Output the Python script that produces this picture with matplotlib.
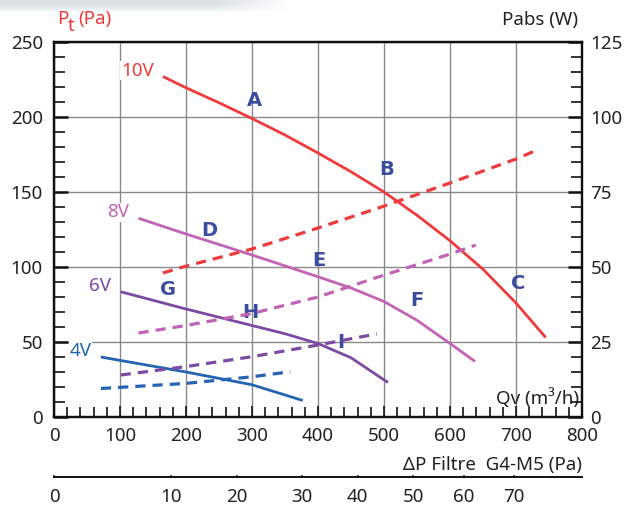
import numpy as np
import matplotlib
matplotlib.use("Agg")
import matplotlib.pyplot as plt
from matplotlib.ticker import MultipleLocator, FixedLocator

plt.rcParams['font.family'] = ['Noto Sans', 'DejaVu Sans']

# ---------------- data ----------------
# Pressure curves (solid): Qv (m3/h) -> Pt (Pa)
qv_10v = [165, 200, 250, 300, 350, 400, 450, 500, 550, 600, 650, 700, 745]
pt_10v = [227, 219.5, 209.5, 199, 188, 176, 163.5, 150, 134.5, 117.5, 98.5, 76, 53]
qv_8v = [128, 200, 300, 400, 450, 500, 550, 600, 638]
pt_8v = [132.5, 122, 108, 93.5, 86, 77, 64.5, 49, 37]
qv_6v = [101, 200, 300, 350, 400, 450, 506]
pt_6v = [83.5, 72, 61, 55.5, 49, 39.5, 23]
qv_4v = [71, 200, 300, 377]
pt_4v = [40, 30, 21.5, 11]

# Absorbed power curves (dashed): Qv (m3/h) -> Pabs (W)
qvp_10v = [165, 200, 300, 400, 500, 600, 700, 732]
pw_10v = [48, 50.3, 56, 63, 70.3, 78, 86, 89]
qvp_8v = [128, 200, 300, 400, 500, 600, 639]
pw_8v = [28, 30.5, 34.5, 40, 47.3, 54.3, 57.3]
qvp_6v = [101, 200, 300, 400, 489]
pw_6v = [14, 16.8, 20.1, 24, 27.7]
qvp_4v = [71, 200, 300, 358]
pw_4v = [9.5, 11.2, 13.4, 15.1]

voltages = ['10V', '8V', '6V', '4V']
colors = ['#ef3b3b', '#c263b5', '#7c4aa2', '#2464b3']

# Operating point letters
point_letters = ['A', 'B', 'C', 'D', 'E', 'F', 'G', 'H', 'I']
point_qv = [304, 504, 703, 236, 402, 550, 173, 297, 434]
point_pt = [211, 165, 89, 124, 104, 78, 85, 70, 49.5]

# Filter pressure drop secondary scale (Pa) and matching Qv (m3/h)
filter_dp_ticks = [0, 10, 20, 30, 40, 50, 60, 70]
filter_dp_qv = [0, 177, 277, 375, 460, 544, 621, 697]

# ---------------- figure ----------------
fig = plt.figure(figsize=(6.4, 5.08), dpi=100)

# decorative top gradient band
band = fig.add_axes([0, 1 - 13 / 508, 290 / 640, 13 / 508])
h, w = 13, 290
yy = np.linspace(0, 1, h)[:, None]
xx = np.linspace(0, 1, w)[None, :]
alpha = (1 - yy ** 2) * np.clip((1 - xx) / 0.25, 0, 1)
img = np.zeros((h, w, 4))
img[..., 0] = 0.85
img[..., 1] = 0.88
img[..., 2] = 0.90
img[..., 3] = alpha * 0.95
band.imshow(img, aspect='auto', interpolation='bilinear')
band.axis('off')

ax = fig.add_axes([54 / 640, 91 / 508, 528 / 640, 375 / 508])
ax.set_xlim(0, 800)
ax.set_ylim(0, 250)
ax2 = ax.twinx()
ax2.set_ylim(0, 125)

text_col = '#222222'
fs = 13.5
for a in (ax, ax2):
    for s in a.spines.values():
        s.set_linewidth(1.6)
        s.set_color('#111111')

ax.xaxis.set_major_locator(MultipleLocator(100))
ax.xaxis.set_minor_locator(MultipleLocator(20))
ax.yaxis.set_major_locator(MultipleLocator(50))
ax.yaxis.set_minor_locator(MultipleLocator(10))
ax2.yaxis.set_major_locator(MultipleLocator(25))
ax2.yaxis.set_minor_locator(MultipleLocator(5))

ax.grid(True, which='major', color='#8a8a8a', lw=1.0)
ax.set_axisbelow(True)

ax.tick_params(axis='x', which='major', direction='in', length=8, width=1.2,
               labelsize=fs, pad=7, colors='#111111', labelcolor=text_col)
ax.tick_params(axis='x', which='minor', direction='in', length=7, width=1.2, colors='#111111')
ax.tick_params(axis='y', which='major', direction='in', length=10, width=1.8,
               labelsize=fs, pad=8, colors='#111111', labelcolor=text_col)
ax.tick_params(axis='y', which='minor', direction='in', length=8, width=1.2, colors='#111111')
ax2.tick_params(axis='y', which='major', direction='in', length=10, width=1.8,
                labelsize=fs, pad=6, colors='#111111', labelcolor=text_col)
ax2.tick_params(axis='y', which='minor', direction='in', length=8, width=1.2, colors='#111111')

solid = [(qv_10v, pt_10v), (qv_8v, pt_8v), (qv_6v, pt_6v), (qv_4v, pt_4v)]
dashed = [(qvp_10v, pw_10v), (qvp_8v, pw_8v), (qvp_6v, pw_6v), (qvp_4v, pw_4v)]
for (x, y), c in zip(solid, colors):
    ax.plot(x, y, color=c, lw=2.0, solid_capstyle='butt', solid_joinstyle='round', zorder=3)
for (x, y), c in zip(dashed, colors):
    ax2.plot(x, y, color=c, lw=2.3, dashes=(3.2, 2.2), zorder=3)

# voltage labels
for lab, (x, y), c in zip(voltages, solid, colors):
    ax.text(x[0] - 14, y[0] + 4, lab, color=c, fontsize=fs, ha='right', va='center',
            bbox=dict(facecolor='white', edgecolor='none', pad=0.5), zorder=4)

# point letters
for lab, x, y in zip(point_letters, point_qv, point_pt):
    ax.text(x, y, lab, color='#3a4c9e', fontsize=14, fontweight='bold',
            family='DejaVu Sans', ha='center', va='center', zorder=5)

# axis titles
ax.text(0.995, 0.05, 'Qv (m³/h)', transform=ax.transAxes, ha='right', va='center',
        fontsize=fs, color=text_col)
fig.text(57 / 640, 1 - 19 / 508, 'P', color='#ef3b3b', fontsize=fs, ha='left', va='center')
fig.text(68 / 640, 1 - 26 / 508, 't', color='#ef3b3b', fontsize=fs, ha='left', va='center')
fig.text(78 / 640, 1 - 19 / 508, '(Pa)', color='#ef3b3b', fontsize=fs, ha='left', va='center')
fig.text(578 / 640, 1 - 20 / 508, 'Pabs (W)', color=text_col, fontsize=fs,
         ha='right', va='center')

# secondary filter scale
axf = fig.add_axes([54 / 640, 31 / 508, 528 / 640, 0.001])
axf.set_xlim(0, 800)
axf.set_ylim(0, 1)
for s in ('top', 'left', 'right'):
    axf.spines[s].set_visible(False)
axf.spines['bottom'].set_linewidth(1.4)
axf.spines['bottom'].set_color('#111111')
axf.set_yticks([])
axf.xaxis.set_major_locator(FixedLocator(filter_dp_qv))
axf.set_xticklabels([str(v) for v in filter_dp_ticks])
axf.tick_params(axis='x', direction='out', length=0, labelsize=fs, pad=8, labelcolor=text_col)
for q in filter_dp_qv:
    axf.plot([q, q], [0, 1], transform=axf.get_xaxis_transform(), color='#111111', lw=1.2,
             clip_on=False)
axf.patch.set_visible(False)
fig.text(582 / 640, 1 - 465 / 508, 'ΔP Filtre  G4-M5 (Pa)', color=text_col, fontsize=fs,
         ha='right', va='center')

fig.savefig('out.png', dpi=100)
